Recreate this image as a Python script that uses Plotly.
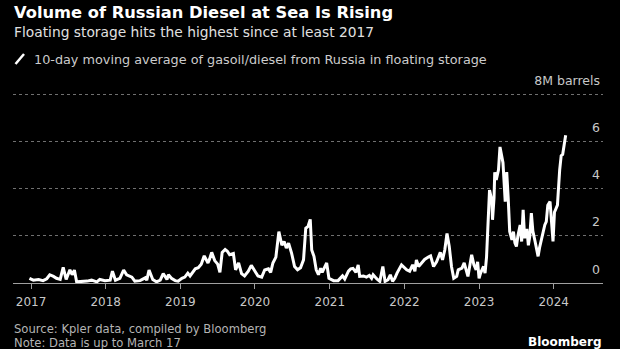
import plotly.graph_objects as go
import pandas as pd

# Time of each observation (decimal years) and 10-day moving average (million barrels)
years = [
    2016.98, 2017.03, 2017.10, 2017.16, 2017.21, 2017.25, 2017.30, 2017.34, 2017.39, 2017.43,
    2017.47, 2017.52, 2017.55, 2017.58, 2017.61, 2017.68, 2017.75, 2017.81, 2017.88, 2017.92,
    2017.99, 2018.06, 2018.09, 2018.13, 2018.19, 2018.24, 2018.28, 2018.35, 2018.39, 2018.46,
    2018.53, 2018.55, 2018.58, 2018.63, 2018.68, 2018.73, 2018.77, 2018.82, 2018.84, 2018.88,
    2018.93, 2018.97, 2019.02, 2019.06, 2019.10, 2019.13, 2019.16, 2019.20, 2019.24, 2019.28,
    2019.32, 2019.37, 2019.39, 2019.42, 2019.46, 2019.50, 2019.53, 2019.56, 2019.60, 2019.63,
    2019.66, 2019.71, 2019.74, 2019.78, 2019.82, 2019.86, 2019.91, 2019.95, 2020.00, 2020.04,
    2020.09, 2020.13, 2020.18, 2020.21, 2020.24, 2020.28, 2020.32, 2020.36, 2020.39, 2020.42,
    2020.45, 2020.49, 2020.53, 2020.57, 2020.61, 2020.65, 2020.68, 2020.71, 2020.74, 2020.76,
    2020.79, 2020.82, 2020.85, 2020.88, 2020.90, 2020.96, 2020.99, 2021.05, 2021.11, 2021.17,
    2021.20, 2021.25, 2021.28, 2021.31, 2021.35, 2021.38, 2021.40, 2021.45, 2021.49, 2021.53,
    2021.56, 2021.58, 2021.63, 2021.67, 2021.71, 2021.74, 2021.78, 2021.81, 2021.84, 2021.87,
    2021.90, 2021.96, 2022.03, 2022.07, 2022.11, 2022.14, 2022.16, 2022.19, 2022.23, 2022.27,
    2022.32, 2022.35, 2022.39, 2022.43, 2022.48, 2022.51, 2022.54, 2022.57, 2022.60, 2022.63,
    2022.66, 2022.70, 2022.72, 2022.77, 2022.80, 2022.83, 2022.85, 2022.90, 2022.93, 2022.96,
    2022.98, 2023.00, 2023.02, 2023.06, 2023.08, 2023.10, 2023.12, 2023.14, 2023.17, 2023.18,
    2023.20, 2023.21, 2023.23, 2023.26, 2023.28, 2023.30, 2023.32, 2023.35, 2023.37, 2023.39,
    2023.41, 2023.44, 2023.46, 2023.48, 2023.50, 2023.52, 2023.55, 2023.57, 2023.59, 2023.61,
    2023.64, 2023.66, 2023.68, 2023.70, 2023.72, 2023.75, 2023.77, 2023.79, 2023.81, 2023.84,
    2023.86, 2023.88, 2023.90, 2023.92, 2023.95, 2023.97, 2023.99, 2024.01, 2024.03, 2024.05,
    2024.08, 2024.10, 2024.12, 2024.14, 2024.16,
]
barrels_m = [
    0.20, 0.12, 0.15, 0.10, 0.18, 0.35, 0.28, 0.20, 0.15, 0.66,
    0.15, 0.56, 0.35, 0.55, 0.05, 0.05, 0.08, 0.12, 0.05, 0.15,
    0.10, 0.12, 0.50, 0.12, 0.20, 0.55, 0.35, 0.25, 0.08, 0.10,
    0.22, 0.12, 0.55, 0.15, 0.05, 0.12, 0.40, 0.15, 0.35, 0.20,
    0.10, 0.08, 0.20, 0.25, 0.42, 0.30, 0.45, 0.60, 0.65, 0.80,
    1.15, 0.85, 1.00, 1.30, 0.95, 0.80, 0.45, 1.30, 1.42, 1.35,
    1.20, 1.25, 0.56, 0.85, 0.40, 0.30, 0.50, 0.75, 0.50, 0.30,
    0.25, 0.55, 0.60, 0.45, 0.85, 1.10, 2.18, 1.60, 1.76, 1.48,
    1.69, 1.27, 0.70, 0.56, 0.65, 0.98, 2.32, 2.40, 2.70, 1.40,
    1.13, 0.56, 0.35, 0.63, 0.45, 0.85, 0.20, 0.10, 0.10, 0.30,
    0.17, 0.50, 0.60, 0.62, 0.45, 0.77, 0.28, 0.30, 0.25, 0.32,
    0.20, 0.35, 0.17, 0.07, 0.70, 0.07, 0.14, 0.35, 0.07, 0.20,
    0.42, 0.77, 0.56, 0.50, 0.77, 0.50, 0.98, 0.70, 0.85, 1.00,
    1.10, 1.15, 0.70, 0.90, 1.30, 0.98, 1.40, 2.10, 1.55, 0.70,
    0.20, 0.28, 0.56, 0.63, 0.85, 0.50, 0.28, 1.20, 0.77, 0.56,
    0.90, 0.20, 0.42, 0.70, 0.42, 1.10, 2.46, 3.94, 3.50, 2.68,
    3.60, 4.70, 4.37, 4.80, 5.77, 5.35, 5.10, 3.45, 4.70, 3.60,
    2.18, 1.83, 2.18, 1.70, 1.55, 2.00, 2.46, 1.76, 3.10, 1.90,
    2.30, 1.60, 2.00, 2.96, 2.20, 1.76, 1.50, 1.13, 1.50, 1.90,
    2.30, 2.46, 2.60, 3.30, 3.45, 2.46, 1.76, 3.00, 3.20, 3.30,
    4.80, 5.40, 5.45, 5.85, 6.27,
]

y_tick_values = [0, 2, 4, 6, 8]
y_tick_labels = ["0", "2", "4", "6", "8M barrels"]
x_range_years = [2016.76, 2024.66]
y_range = [0, 8.1]


def to_date(y):
    year = int(y)
    return pd.Timestamp(year=year, month=1, day=1) + pd.to_timedelta((y - year) * 365.25, unit="D")


dates = [to_date(y) for y in years]
x_range = [to_date(y) for y in x_range_years]

W, H = 620, 349
L, R, T, B = 13, 17, 92, 66
plot_h = H - T - B


def py(pixel_y):
    return (H - B - pixel_y) / plot_h


def px(pixel_x):
    return (pixel_x - L) / (W - L - R)


FONT = "DejaVu Sans"

fig = go.Figure()
fig.add_trace(go.Scatter(
    x=dates, y=barrels_m, mode="lines",
    line=dict(color="white", width=3),
    hoverinfo="skip", showlegend=False,
))

fig.update_layout(
    width=W, height=H,
    margin=dict(l=L, r=R, t=T, b=B),
    paper_bgcolor="black", plot_bgcolor="black",
    font=dict(family=FONT, color="#cccccc", size=12),
    xaxis=dict(
        type="date", range=x_range, dtick="M12", tick0="2017-01-01", tickformat="%Y",
        showgrid=False, zeroline=False,
        showline=True, linecolor="#a0a0a0", linewidth=1,
        ticks="outside", ticklen=5, tickcolor="#a0a0a0", tickwidth=1,
        ticklabelstandoff=3,
        tickfont=dict(size=12, color="#c8c8c8"),
    ),
    yaxis=dict(
        range=y_range, tickvals=y_tick_values, ticktext=y_tick_labels,
        side="right", ticklabelposition="inside top", ticklabeloverflow="allow",
        ticklabelshift=-5,
        showgrid=True, gridcolor="#707070", griddash="dot", gridwidth=1,
        zeroline=False, showline=False, ticks="",
        tickfont=dict(size=12.5, color="#c8c8c8"),
    ),
    annotations=[
        dict(text="<b>Volume of Russian Diesel at Sea Is Rising</b>", xref="paper", yref="paper",
             x=px(12), y=py(13), xanchor="left", yanchor="middle", showarrow=False,
             font=dict(size=16.3, color="white", family=FONT)),
        dict(text="Floating storage hits the highest since at least 2017", xref="paper", yref="paper",
             x=px(12), y=py(32), xanchor="left", yanchor="middle", showarrow=False,
             font=dict(size=13.8, color="#e0e0e0", family=FONT)),
        dict(text="10-day moving average of gasoil/diesel from Russia in floating storage", xref="paper",
             yref="paper", x=px(32), y=py(59), xanchor="left", yanchor="middle", showarrow=False,
             font=dict(size=12.8, color="#cccccc", family=FONT)),
        dict(text="Source: Kpler data, compiled by Bloomberg", xref="paper", yref="paper",
             x=px(12), y=py(329), xanchor="left", yanchor="middle", showarrow=False,
             font=dict(size=11.6, color="#b4b4b4", family=FONT)),
        dict(text="Note: Data is up to March 17", xref="paper", yref="paper",
             x=px(12), y=py(342.5), xanchor="left", yanchor="middle", showarrow=False,
             font=dict(size=11.6, color="#b4b4b4", family=FONT)),
        dict(text="<b>Bloomberg</b>", xref="paper", yref="paper",
             x=px(604), y=py(342), xanchor="right", yanchor="middle", showarrow=False,
             font=dict(size=12, color="white", family=FONT)),
    ],
    shapes=[
        dict(type="line", xref="paper", yref="paper",
             x0=px(15.5), y0=py(64), x1=px(24), y1=py(54),
             line=dict(color="white", width=2.5)),
    ],
)

fig.write_html("out.html")
